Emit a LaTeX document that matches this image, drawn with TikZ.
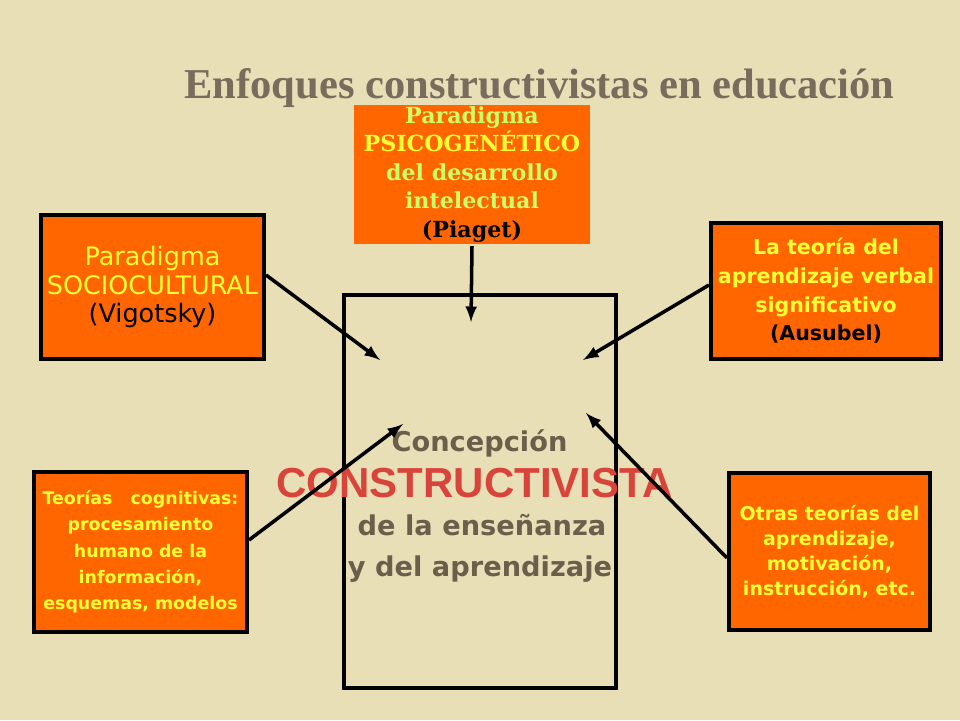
\documentclass[tikz,border=0pt]{standalone}
\usepackage{fontspec}
\setmainfont{DejaVu Sans}
\newfontfamily\titlefont{Liberation Serif}
\newfontfamily\psicofont{DejaVu Serif}
\newfontfamily\arialfont{Liberation Sans}
\usepackage{xcolor}
\usetikzlibrary{shapes,arrows,positioning,calc}

\definecolor{fondo}{HTML}{E8DFB7}
\definecolor{naranja}{HTML}{FF6600}
\definecolor{amarillo}{HTML}{FFFF33}
\definecolor{verdoso}{HTML}{CCFF66}
\definecolor{gristitulo}{HTML}{786C5C}
\definecolor{griscentro}{HTML}{6B5F4B}
\definecolor{rojo}{HTML}{D9443A}

\begin{document}
\begin{tikzpicture}[
    caja/.style={rectangle, draw=black, line width=2.3pt, fill=naranja, align=center, inner sep=0pt},
    flecha/.style={-latex, line width=2pt, black},
    centro/.style={anchor=base, text=griscentro, font=\bfseries\fontsize{15.5}{19}\selectfont}]

    % fondo
    \useasboundingbox (0,0) rectangle (19.2,14.4);
    \fill[fondo] (0,0) rectangle (19.2,14.4);

    % titulo
    \node[text=gristitulo, font=\titlefont\bfseries\fontsize{24.2}{28}\selectfont] (titulo) at (10.79,12.64)
        {Enfoques constructivistas en educaci\'on};

    % caja central
    \node[rectangle, draw=black, line width=2.2pt, minimum width=5.44cm, minimum height=7.86cm] (concep) at (9.6,4.57) {};
    \node[centro] (c1) at (9.59,5.36) {Concepci\'on};
    \node[centro, text=rojo, font=\arialfont\bfseries\fontsize{23.9}{28}\selectfont] (c2) at (9.49,4.46) {CONSTRUCTIVISTA};
    \node[centro] (c3) at (9.64,3.70) {de la enseñanza};
    \node[centro] (c4) at (9.6,2.88) {y del aprendizaje};

    % paradigmas
    \node[caja, draw=none, minimum width=4.72cm, minimum height=2.78cm,
          font=\psicofont\bfseries\fontsize{12.6}{16.2}\selectfont] (psico) at (9.44,10.91)
        {\textcolor{verdoso}{Paradigma}\\
         \textcolor{amarillo}{PSICOGENÉTICO}\\
         \textcolor{verdoso}{del desarrollo}\\
         \textcolor{verdoso}{intelectual}\\
         (Piaget)};
    \node[caja, minimum width=4.46cm, minimum height=2.88cm,
          font=\fontsize{14.5}{16.3}\selectfont] (socio) at (3.05,8.66)
        {\textcolor{amarillo}{Paradigma}\\
         \textcolor{amarillo}{SOCIOCULTURAL}\\
         (Vigotsky)};
    \node[caja, minimum width=4.6cm, minimum height=2.72cm,
          font=\bfseries\fontsize{11.7}{16.3}\selectfont] (ausubel) at (16.52,8.58)
        {\textcolor{amarillo}{La teoría del}\\
         \textcolor{amarillo}{aprendizaje verbal}\\
         \textcolor{amarillo}{significativo}\\
         (Ausubel)};
    \node[caja, minimum width=4.26cm, minimum height=3.2cm, text=amarillo,
          font=\bfseries\fontsize{9.9}{15}\selectfont] (cogn) at (2.81,3.36)
        {Teorías\ \ \ cognitivas:\\
         procesamiento\\
         humano de la\\
         información,\\
         esquemas, modelos};
    \node[caja, minimum width=4.02cm, minimum height=3.14cm, text=amarillo,
          font=\bfseries\fontsize{10.8}{14.2}\selectfont] (otras) at (16.59,3.37)
        {Otras teorías del\\
         aprendizaje,\\
         motivación,\\
         instrucción, etc.};

    % puntas de flecha
    \coordinate (p1) at (9.42,7.96);
    \coordinate (p2) at (7.6,7.2);
    \coordinate (p3) at (11.66,7.2);
    \coordinate (p4) at (8.06,5.92);
    \coordinate (p5) at (11.72,6.14);

    \draw[flecha] (psico.south) -- (p1);
    \draw[flecha] ([yshift=0.24cm]socio.east) -- (p2);
    \draw[flecha] ([yshift=0.12cm]ausubel.west) -- (p3);
    \draw[flecha] ([yshift=0.24cm]cogn.east) -- (p4);
    \draw[flecha] ([yshift=-0.13cm]otras.west) -- (p5);

\end{tikzpicture}
\end{document}
